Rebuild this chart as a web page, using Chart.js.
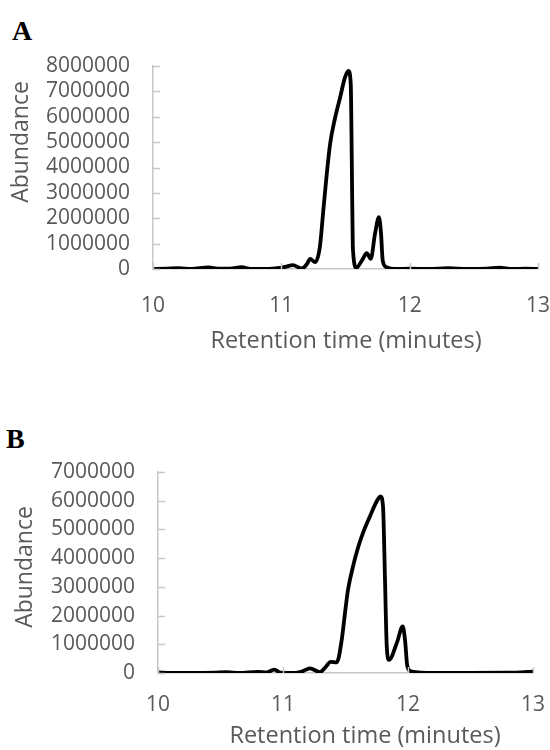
<!DOCTYPE html>
<html>
<head>
<meta charset="utf-8">
<script src="https://cdn.jsdelivr.net/npm/chart.js@4.4.1/dist/chart.umd.min.js"></script>
<style>
  body { margin: 0; background: #fff; width: 550px; height: 750px; position: relative; overflow: hidden; }
  .panel { position: absolute; left: 0; }
  .tag { position: absolute; font-family: "Liberation Serif", "Times New Roman", serif; font-weight: bold; font-size: 28px; color: #000; line-height: 1; }
</style>
</head>
<body>
<div class="tag" style="left:12px; top:17px;">A</div>
<div class="tag" style="left:6px; top:425px;">B</div>
<canvas id="chartA" class="panel" style="top:0px;" width="550" height="370"></canvas>
<canvas id="chartB" class="panel" style="top:380px;" width="550" height="370"></canvas>
<script>
// panel A - retention time (min) and abundance
var timeA = [10.0, 10.1, 10.2, 10.3, 10.43, 10.52, 10.6, 10.69, 10.76, 10.85, 10.95, 11.03, 11.09, 11.16,
  11.2, 11.224, 11.263, 11.30, 11.327, 11.354, 11.38, 11.42, 11.458, 11.496, 11.522, 11.541, 11.549, 11.557,
  11.585, 11.627, 11.666, 11.697, 11.73, 11.761, 11.777, 11.79, 11.82, 11.9, 12.0, 12.15, 12.3, 12.45,
  12.6, 12.7, 12.8, 12.9, 13.0];
var abundA = [0, 10000, 30000, 0, 60000, 10000, 10000, 70000, 0, 0, 20000, 80000, 150000, 20000,
  200000, 400000, 270000, 860000, 2300000, 3750000, 4930000, 5980000, 6760000, 7550000, 7810000, 7290000, 4270000, 860000,
  50000, 330000, 620000, 400000, 1390000, 2040000, 1390000, 330000, 70000, 0, 10000, 0, 30000, 0,
  10000, 50000, 0, 10000, 0];

// panel B
var timeB = [10.0, 10.1, 10.3, 10.45, 10.55, 10.65, 10.8, 10.87, 10.93, 10.98, 11.1, 11.15, 11.216, 11.296,
  11.34, 11.381, 11.43, 11.47, 11.496, 11.52, 11.56, 11.60, 11.64, 11.696, 11.75, 11.78, 11.80, 11.816,
  11.83, 11.848, 11.91, 11.958, 11.976, 11.995, 12.03, 12.2, 12.5, 12.8, 12.9, 13.0];
var abundB = [20000, 0, 0, 10000, 30000, 0, 40000, 20000, 120000, 10000, 0, 50000, 160000, 30000,
  200000, 390000, 370000, 1160000, 2090000, 2900000, 3710000, 4360000, 4880000, 5460000, 5980000, 6150000, 5800000, 3250000,
  930000, 460000, 1040000, 1620000, 1160000, 230000, 50000, 0, 0, 10000, 20000, 50000];

var xTicks = [10, 11, 12, 13];
var yMaxA = 8000000;
var yMaxB = 7000000;
var xTitle = 'Retention time (minutes)';
var yTitle = 'Abundance';

var tickGray = '#595959';
var axisGray = '#c8c8c8';

// excel style tick marks pointing into the plot + axis titles
var innerTicks = {
  id: 'innerTicks',
  afterDraw: function(chart, args, opts) {
    var ctx = chart.ctx;
    var area = chart.chartArea;
    var xs = chart.scales.x, ys = chart.scales.y;
    ctx.save();
    ctx.strokeStyle = axisGray;
    ctx.lineWidth = 1.5;
    ctx.beginPath();
    ys.ticks.forEach(function(t) {
      var py = Math.round(ys.getPixelForValue(t.value)) + 0.5;
      ctx.moveTo(area.left, py);
      ctx.lineTo(area.left + 7, py);
    });
    xs.ticks.forEach(function(t) {
      var px = Math.round(xs.getPixelForValue(t.value)) + 0.5;
      ctx.moveTo(px, area.bottom);
      ctx.lineTo(px, area.bottom - 6);
    });
    ctx.stroke();

    ctx.fillStyle = tickGray;
    ctx.textAlign = 'center';
    ctx.textBaseline = 'middle';
    ctx.font = '23.5px "Open Sans"';
    ctx.fillText(xTitle, opts.xtX, opts.xtY);
    ctx.translate(opts.ytX, opts.ytY);
    ctx.rotate(-Math.PI / 2);
    ctx.font = '23px "Open Sans"';
    ctx.fillText(yTitle, 0, 0);
    ctx.restore();
  }
};

function makeChart(id, times, values, yMax, cfg) {
  var pts = [];
  for (var i = 0; i < times.length; i++) {
    pts.push({x: times[i], y: values[i]});
  }
  var el = document.getElementById(id);
  var ctx = el.getContext('2d');
  return new Chart(ctx, {
    type: 'line',
    data: {
      datasets: [{
        data: pts,
        borderColor: '#000',
        borderWidth: 3.8,
        pointRadius: 0,
        cubicInterpolationMode: 'monotone',
        fill: false
      }]
    },
    options: {
      responsive: false,
      animation: false,
      layout: { padding: { top: cfg.top, right: cfg.right, left: 0, bottom: 0 } },
      plugins: {
        legend: { display: false },
        tooltip: { enabled: false },
        innerTicks: cfg.titles
      },
      scales: {
        x: {
          type: 'linear',
          min: 10, max: 13,
          afterBuildTicks: function(scale) {
            scale.ticks = xTicks.map(function(v) { return {value: v}; });
          },
          afterFit: function(scale) {
            scale.height = cfg.xHeight;
            scale.paddingLeft = 0;
            scale.paddingRight = 0;
          },
          grid: { display: false, drawTicks: false },
          border: { display: true, color: axisGray, width: 1.5 },
          ticks: {
            color: tickGray, padding: cfg.xPad,
            font: { family: 'Open Sans', size: 21 },
            maxRotation: 0, autoSkip: false,
            callback: function(v) { return String(v); }
          }
        },
        y: {
          min: 0, max: yMax,
          ticks: {
            stepSize: 1000000, color: tickGray, padding: 23, autoSkip: false,
            font: { family: 'Open Sans', size: 21 },
            callback: function(v) { return String(v); }
          },
          afterFit: function(scale) {
            scale.width = cfg.yWidth;
            scale.paddingTop = 0;
            scale.paddingBottom = 0;
          },
          grid: { display: false, drawTicks: false },
          border: { display: true, color: axisGray, width: 1.5 }
        }
      }
    },
    plugins: [innerTicks]
  });
}

makeChart('chartA', timeA, abundA, yMaxA, {
  top: 66, right: 12, yWidth: 153, xHeight: 101, xPad: 24,
  titles: { xtX: 346, xtY: 341, ytX: 21, ytY: 142 }
});
makeChart('chartB', timeB, abundB, yMaxB, {
  top: 92, right: 17, yWidth: 158, xHeight: 77, xPad: 19,
  titles: { xtX: 365, xtY: 356, ytX: 25, ytY: 187 }
});
</script>
</body>
</html>
